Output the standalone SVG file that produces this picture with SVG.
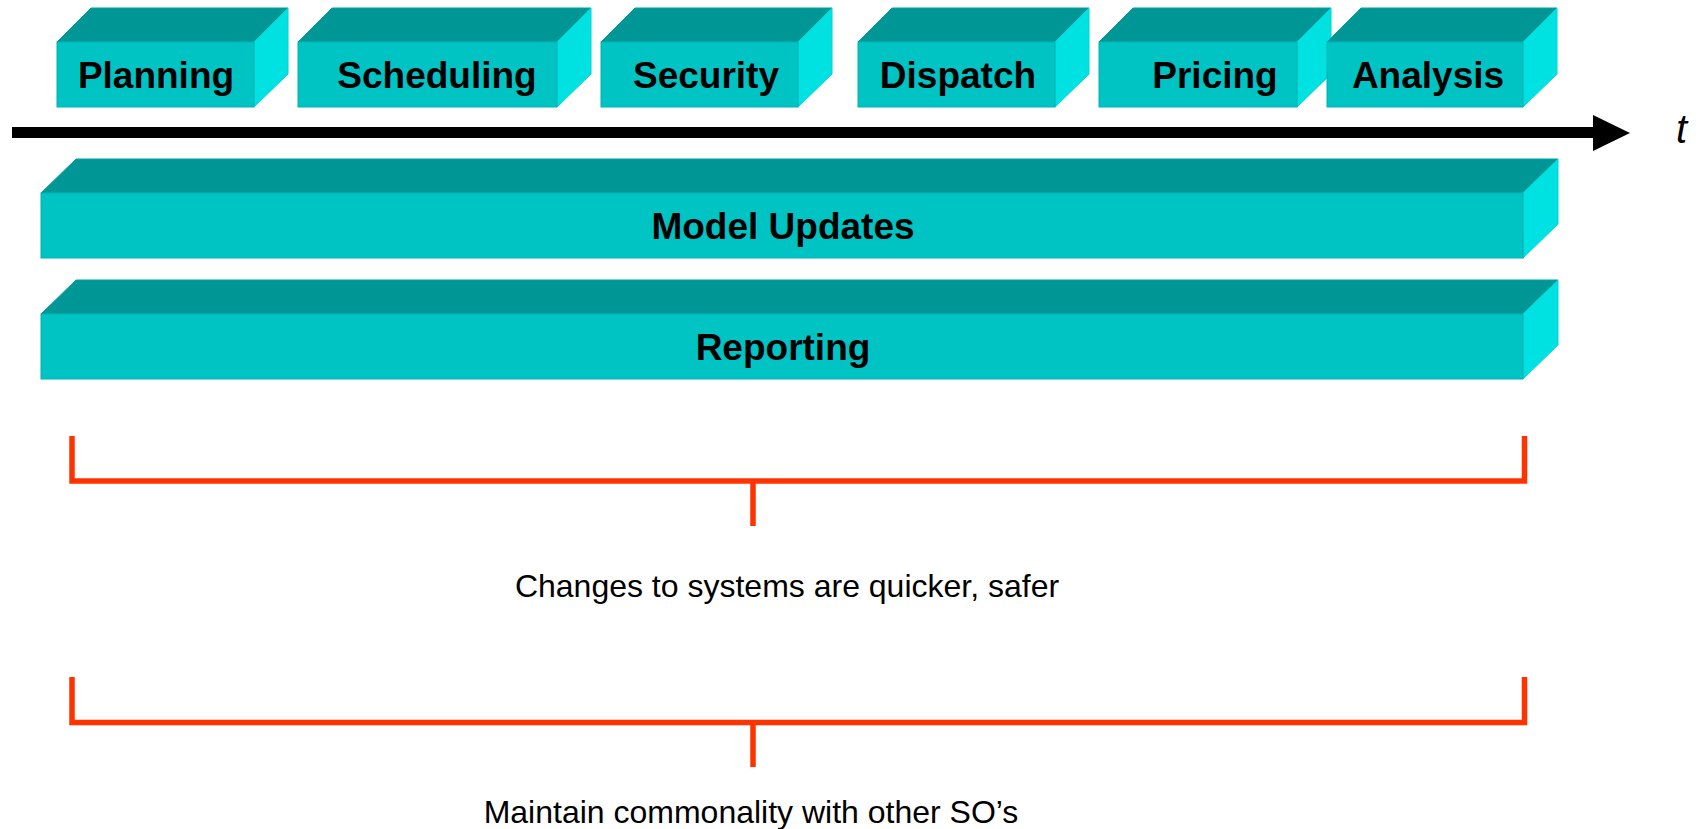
<svg xmlns="http://www.w3.org/2000/svg" width="1704" height="829" viewBox="0 0 1704 829">
<style>
.front{fill:#00C3C3;stroke:#00B2B2;stroke-width:1}
.top{fill:#009696;stroke:#00A3A3;stroke-width:1}
.side{fill:#00E2E2;stroke:#00D4D4;stroke-width:1}
.lbl{font-family:"Liberation Sans",Arial,sans-serif;font-weight:bold;font-size:37px;fill:#000;text-anchor:middle}
.note{font-family:"Liberation Sans",Arial,sans-serif;font-size:32px;fill:#000;text-anchor:middle}
.br{fill:none;stroke:#FF3300;stroke-width:5.5}
</style>
<rect width="1704" height="829" fill="#fff"/>
<g id="planning">
<polygon class="top" points="57,42 91,8 288,8 254,42"/>
<polygon class="side" points="254,42 288,8 288,74 254,107"/>
<rect class="front" x="57" y="42" width="197" height="65"/>
<text class="lbl" x="156" y="88">Planning</text>
</g>
<g id="scheduling">
<polygon class="top" points="298,42 332,8 591,8 557,42"/>
<polygon class="side" points="557,42 591,8 591,74 557,107"/>
<rect class="front" x="298" y="42" width="259" height="65"/>
<text class="lbl" x="437" y="88">Scheduling</text>
</g>
<g id="security">
<polygon class="top" points="601,42 635,8 832,8 798,42"/>
<polygon class="side" points="798,42 832,8 832,74 798,107"/>
<rect class="front" x="601" y="42" width="197" height="65"/>
<text class="lbl" x="706" y="88">Security</text>
</g>
<g id="dispatch">
<polygon class="top" points="858,42 892,8 1089,8 1055,42"/>
<polygon class="side" points="1055,42 1089,8 1089,74 1055,107"/>
<rect class="front" x="858" y="42" width="197" height="65"/>
<text class="lbl" x="958" y="88">Dispatch</text>
</g>
<g id="pricing">
<polygon class="top" points="1099,42 1133,8 1331,8 1297,42"/>
<polygon class="side" points="1297,42 1331,8 1331,74 1297,107"/>
<rect class="front" x="1099" y="42" width="198" height="65"/>
<text class="lbl" x="1215" y="88">Pricing</text>
</g>
<g id="analysis">
<polygon class="top" points="1327,42 1361,8 1557,8 1523,42"/>
<polygon class="side" points="1523,42 1557,8 1557,74 1523,107"/>
<rect class="front" x="1327" y="42" width="196" height="65"/>
<text class="lbl" x="1428" y="88">Analysis</text>
</g>
<g id="time-axis">
<rect x="12" y="127" width="1582" height="11" fill="#000"/>
<polygon points="1593,115 1630,133 1593,151" fill="#000"/>
<text x="1676" y="143" style="font-family:'Liberation Sans',Arial,sans-serif;font-style:italic;font-size:40px;fill:#000">t</text>
</g>
<g id="model-updates">
<polygon class="top" points="41,193 76,159 1558,159 1523,193"/>
<polygon class="side" points="1523,193 1558,159 1558,224 1523,258"/>
<rect class="front" x="41" y="193" width="1482" height="65"/>
<text class="lbl" x="783" y="239">Model Updates</text>
</g>
<g id="reporting">
<polygon class="top" points="41,314 76,280 1558,280 1523,314"/>
<polygon class="side" points="1523,314 1558,280 1558,345 1523,379"/>
<rect class="front" x="41" y="314" width="1482" height="65"/>
<text class="lbl" x="783" y="360">Reporting</text>
</g>
<g id="connectors">
<path class="br" d="M72,436 V481 H1524.5 V436"/>
<path class="br" d="M753,481 V526"/>
<path class="br" d="M72,677 V722.5 H1524.5 V677"/>
<path class="br" d="M753,722.5 V767"/>
</g>
<g id="note-changes">
<text class="note" x="787" y="597">Changes to systems are quicker, safer</text>
</g>
<g id="note-commonality">
<text class="note" x="751" y="823">Maintain commonality with other SO’s</text>
</g>
</svg>
